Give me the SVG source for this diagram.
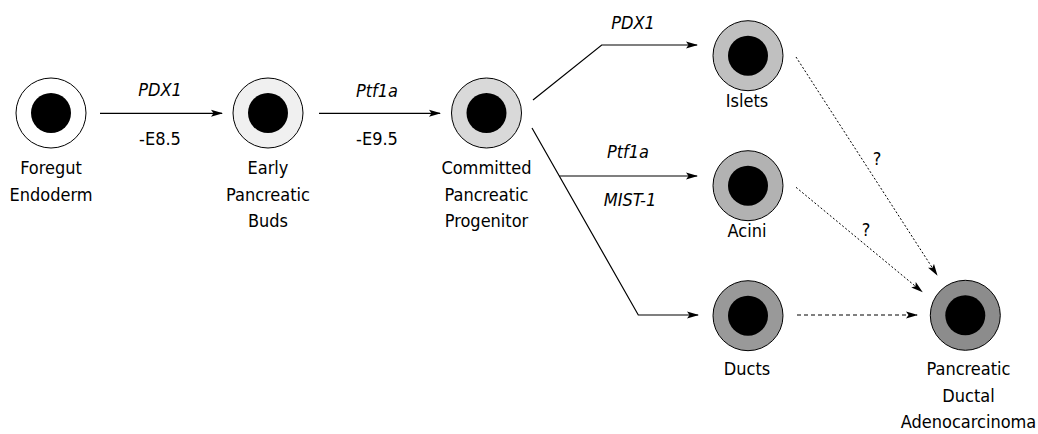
<svg xmlns="http://www.w3.org/2000/svg" width="1038" height="434" viewBox="0 0 1038 434">
<defs>
<marker id="ah" viewBox="0 0 12 8" refX="11" refY="4" markerWidth="12" markerHeight="8" markerUnits="userSpaceOnUse" orient="auto">
<path d="M0,0.5 L12,4 L0,7.5 L2.5,4 Z" fill="#000"/>
</marker>
</defs>
<style>
.ring{stroke:#000;stroke-width:1}
.core{fill:#000}
.lbl{font-family:"DejaVu Sans Condensed","DejaVu Sans",Tahoma,sans-serif;font-stretch:condensed;font-size:18px;fill:#000;text-anchor:middle}
.it{font-style:italic}
.edge{fill:none;stroke:#000;stroke-width:1.2}
.dot{stroke-dasharray:2,2;stroke-width:1}
.dash{stroke-dasharray:4,3;stroke-width:1}
</style>
<rect width="1038" height="434" fill="#fff"/>
<g id="foregut">
<circle class="ring" cx="51" cy="113" r="35" fill="#fff"/>
<circle class="core" cx="51" cy="113" r="20"/>
<text class="lbl" x="51" y="174">Foregut</text>
<text class="lbl" x="51" y="200.5">Endoderm</text>
</g>
<g id="early">
<circle class="ring" cx="268" cy="113" r="35" fill="#f0f0f0"/>
<circle class="core" cx="268" cy="113" r="20"/>
<text class="lbl" x="268" y="174">Early</text>
<text class="lbl" x="268" y="200.5">Pancreatic</text>
<text class="lbl" x="268" y="227">Buds</text>
</g>
<g id="committed">
<circle class="ring" cx="486.5" cy="113" r="35" fill="#d9d9d9"/>
<circle class="core" cx="486.5" cy="113" r="20"/>
<text class="lbl" x="486.5" y="174">Committed</text>
<text class="lbl" x="486.5" y="200.5">Pancreatic</text>
<text class="lbl" x="486.5" y="227">Progenitor</text>
</g>
<g id="islets">
<circle class="ring" cx="748" cy="55.7" r="35" fill="#c0c0c0"/>
<circle class="core" cx="748" cy="55.7" r="20"/>
<text class="lbl" x="747" y="107">Islets</text>
</g>
<g id="acini">
<circle class="ring" cx="748" cy="185.7" r="35" fill="#b2b2b2"/>
<circle class="core" cx="748" cy="185.7" r="20"/>
<text class="lbl" x="747" y="237">Acini</text>
</g>
<g id="ducts">
<circle class="ring" cx="748" cy="315.7" r="35" fill="#999999"/>
<circle class="core" cx="748" cy="315.7" r="20"/>
<text class="lbl" x="747" y="375">Ducts</text>
</g>
<g id="pda">
<circle class="ring" cx="965.3" cy="315.3" r="35" fill="#8c8c8c"/>
<circle class="core" cx="965.3" cy="315.3" r="20"/>
<text class="lbl" x="968.5" y="375">Pancreatic</text>
<text class="lbl" x="968.5" y="401.5">Ductal</text>
<text class="lbl" x="968.5" y="428">Adenocarcinoma</text>
</g>
<g id="connectors">
<line class="edge" x1="100" y1="113.3" x2="222" y2="113.3" marker-end="url(#ah)"/>
<line class="edge" x1="319" y1="113.3" x2="440" y2="113.3" marker-end="url(#ah)"/>
<polyline class="edge" points="533,100 601.7,45 697,45" marker-end="url(#ah)"/>
<polyline class="edge" points="532,128 638.3,315 698,315" marker-end="url(#ah)"/>
<line class="edge" x1="559.3" y1="176" x2="697" y2="176" marker-end="url(#ah)"/>
<line class="edge dot" x1="796" y1="57" x2="937" y2="275" marker-end="url(#ah)"/>
<line class="edge dot" x1="796" y1="187.3" x2="922" y2="291.7" marker-end="url(#ah)"/>
<line class="edge dash" x1="797" y1="315" x2="917" y2="315" marker-end="url(#ah)"/>
<text class="lbl it" x="160" y="96">PDX1</text>
<text class="lbl" x="160" y="145">-E8.5</text>
<text class="lbl it" x="377" y="96.5">Ptf1a</text>
<text class="lbl" x="377" y="145">-E9.5</text>
<text class="lbl it" x="633" y="28.5">PDX1</text>
<text class="lbl it" x="628" y="157.5">Ptf1a</text>
<text class="lbl it" x="630" y="206">MIST-1</text>
<text class="lbl" x="877" y="165">?</text>
<text class="lbl" x="866" y="236">?</text>
</g>
</svg>
